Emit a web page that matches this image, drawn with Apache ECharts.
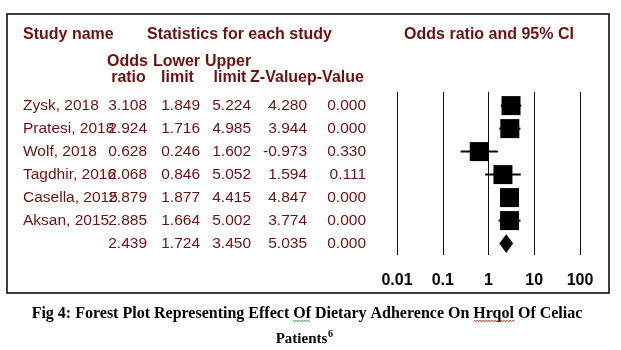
<!DOCTYPE html>
<html><head><meta charset="utf-8">
<script src="https://cdn.jsdelivr.net/npm/echarts@6/dist/echarts.min.js"></script>
<style>html,body{margin:0;padding:0;background:#fff}#c{width:621px;height:350px}</style>
</head><body><div id="c"></div>
<script>
const studyNames = ['Zysk, 2018','Pratesi, 2018','Wolf, 2018','Tagdhir, 2016','Casella, 2015','Aksan, 2015',''];
const oddsRatio  = [3.108, 2.924, 0.628, 2.068, 2.879, 2.885, 2.439];
const lowerLimit = [1.849, 1.716, 0.246, 0.846, 1.877, 1.664, 1.724];
const upperLimit = [5.224, 4.985, 1.602, 5.052, 4.415, 5.002, 3.450];
const zValue     = [4.280, 3.944, -0.973, 1.594, 4.847, 3.774, 5.035];
const pValue     = [0.000, 0.000, 0.330, 0.111, 0.000, 0.000, 0.000];
const isSummary  = [false, false, false, false, false, false, true];
const axisTicks  = [0.01, 0.1, 1, 10, 100];

const RED = '#6e1010';
const SANS = '"Liberation Sans", Arial, Helvetica, sans-serif';
const SERIF = '"Liberation Serif", "Times New Roman", serif';
const ROW_MIN = -0.6, ROW_MAX = 6.5;
const GRID_TOP = 91.8, GRID_H = 163.3;

const tableCols = [
  {x: 23,  align: 'left',  get: i => studyNames[i]},
  {x: 147, align: 'right', get: i => oddsRatio[i].toFixed(3)},
  {x: 200, align: 'right', get: i => lowerLimit[i].toFixed(3)},
  {x: 251, align: 'right', get: i => upperLimit[i].toFixed(3)},
  {x: 307, align: 'right', get: i => zValue[i].toFixed(3)},
  {x: 366, align: 'right', get: i => pValue[i].toFixed(3)}
];

function hdr(text, x, y, align) {
  return {type: 'text', x: x, y: y, style: {text: text, fill: RED, font: 'bold 16px ' + SANS,
    align: align, textAlign: align, verticalAlign: 'middle', textVerticalAlign: 'middle'}};
}
function wavy(x0, x1, y, color) {
  const pts = [];
  let k = 0;
  for (let x = x0; x <= x1; x += 1.5, k++) pts.push([x, y + (k % 2 ? 1 : -1)]);
  return {type: 'polyline', shape: {points: pts}, style: {stroke: color, lineWidth: 0.8, fill: null}};
}

const chart = echarts.init(document.getElementById('c'), null, {renderer: 'canvas'});
chart.setOption({
  animation: false,
  grid: [
    {left: 397, right: 41, top: GRID_TOP, height: GRID_H},
    {left: 0, width: 380, top: GRID_TOP, height: GRID_H}
  ],
  xAxis: [
    {type: 'log', logBase: 10, min: 0.01, max: 100, gridIndex: 0,
     axisLine: {show: false}, axisTick: {show: false},
     splitLine: {show: true, lineStyle: {color: '#111', width: 1}},
     axisLabel: {color: '#000', fontWeight: 'bold', fontSize: 16, fontFamily: SANS, margin: 17,
       formatter: v => { const t = axisTicks.find(t => Math.abs(Math.log10(t) - Math.log10(v)) < 1e-6); return t === undefined ? '' : String(t); }}},
    {type: 'value', min: 0, max: 380, gridIndex: 1, show: false}
  ],
  yAxis: [
    {type: 'value', min: ROW_MIN, max: ROW_MAX, inverse: true, gridIndex: 0, show: false},
    {type: 'value', min: ROW_MIN, max: ROW_MAX, inverse: true, gridIndex: 1, show: false}
  ],
  series: [
    {
      type: 'custom', xAxisIndex: 0, yAxisIndex: 0, encode: {x: 0, y: 1},
      data: oddsRatio.map((v, i) => [v, i, lowerLimit[i], upperLimit[i], isSummary[i] ? 1 : 0]),
      renderItem: function (params, api) {
        const row = api.value(1);
        const c = api.coord([api.value(0), row]);
        const lo = api.coord([api.value(2), row]);
        const hi = api.coord([api.value(3), row]);
        if (api.value(4) === 1) {
          return {type: 'polygon', shape: {points: [[lo[0], c[1]], [c[0], c[1] - 9.3], [hi[0], c[1]], [c[0], c[1] + 9.3]]},
            style: {fill: '#000'}};
        }
        return {type: 'group', children: [
          {type: 'line', shape: {x1: lo[0], y1: c[1], x2: hi[0], y2: c[1]}, style: {stroke: '#000', lineWidth: 2}},
          {type: 'rect', shape: {x: c[0] - 9.5, y: c[1] - 9.5, width: 19, height: 19}, style: {fill: '#000'}}
        ]};
      }
    },
    {
      type: 'custom', xAxisIndex: 1, yAxisIndex: 1, encode: {x: 0, y: 1},
      data: studyNames.map((n, i) => [0, i]),
      renderItem: function (params, api) {
        const row = api.value(1);
        return {type: 'group', children: tableCols.map(col => {
          const p = api.coord([col.x, row]);
          return {type: 'text', x: p[0], y: p[1], style: {text: col.get(row), fill: RED,
            font: '15.5px ' + SANS, align: col.align, textAlign: col.align,
            verticalAlign: 'middle', textVerticalAlign: 'middle'}};
        })};
      }
    }
  ],
  graphic: [
    {type: 'rect', shape: {x: 7, y: 14, width: 602, height: 279}, style: {fill: null, stroke: '#000', lineWidth: 1.5}},
    hdr('Study name', 23, 34.5, 'left'),
    hdr('Statistics for each study', 147, 34.5, 'left'),
    hdr('Odds ratio and 95% CI', 489, 34.5, 'center'),
    hdr('Odds', 127.5, 62, 'center'), hdr('ratio', 128.5, 78, 'center'),
    hdr('Lower', 176.5, 62, 'center'), hdr('limit', 177.5, 78, 'center'),
    hdr('Upper', 228, 62, 'center'), hdr('limit', 230, 78, 'center'),
    hdr('Z-Value', 307, 78, 'right'),
    hdr('p-Value', 307, 78, 'left'),
    {type: 'text', x: 307, y: 314, style: {text: 'Fig 4: Forest Plot Representing Effect Of Dietary Adherence On Hrqol Of Celiac',
      fill: '#000', font: 'bold 16px ' + SERIF, align: 'center', textAlign: 'center', verticalAlign: 'middle', textVerticalAlign: 'middle'}},
    {type: 'text', x: 301.5, y: 339, style: {text: 'Patients', fill: '#000', font: 'bold 15px ' + SERIF,
      align: 'center', textAlign: 'center', verticalAlign: 'middle', textVerticalAlign: 'middle'}},
    {type: 'text', x: 328, y: 334, style: {text: '6', fill: '#000', font: 'bold 10px ' + SERIF,
      align: 'left', textAlign: 'left', verticalAlign: 'middle', textVerticalAlign: 'middle'}},
    wavy(293, 310, 321, '#3a9a3a'),
    wavy(474, 515, 321, '#e02020')
  ]
});
</script></body></html>
